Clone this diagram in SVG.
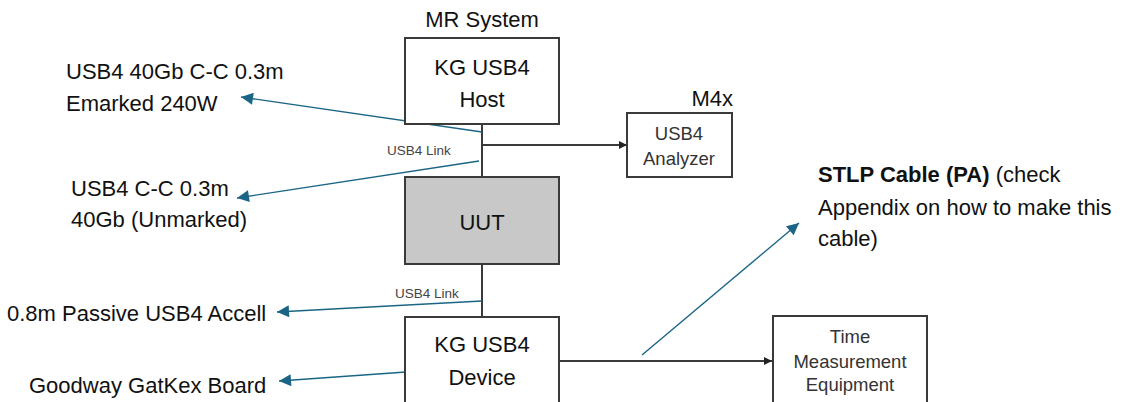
<svg xmlns="http://www.w3.org/2000/svg" width="1130" height="402" viewBox="0 0 1130 402">
<style>
.box{fill:#fff;stroke:#3a3a3a;stroke-width:2}
.uut{fill:#c8c8c8;stroke:#3a3a3a;stroke-width:2}
.t{font-family:"Liberation Sans",Arial,sans-serif;fill:#111}
.big{font-size:22px}
.mid{font-size:18.5px;fill:#333}
.small{font-size:13.5px;fill:#444}
.wire{stroke:#3a3a3a;stroke-width:2;fill:none}
.call{stroke:#1a6585;stroke-width:1.4;fill:none;marker-end:url(#ta)}
</style>
<defs>
<marker id="ba" viewBox="0 0 10 10" refX="10" refY="5" markerWidth="9" markerHeight="8" markerUnits="userSpaceOnUse" orient="auto"><path d="M0,0L10,5L0,10z" fill="#222"/></marker>
<marker id="ta" viewBox="0 0 10 10" refX="10" refY="5" markerWidth="16" markerHeight="12" markerUnits="userSpaceOnUse" orient="auto"><path d="M0,0L10,5L0,10z" fill="#1a6585"/></marker>
</defs>
<g id="connectors">
<line class="wire" x1="482" y1="124" x2="482" y2="177"/>
<line class="wire" x1="482" y1="145" x2="627" y2="145" marker-end="url(#ba)"/>
<line class="wire" x1="482" y1="264" x2="482" y2="317"/>
<line class="wire" x1="559" y1="361" x2="772" y2="361" marker-end="url(#ba)"/>
<line class="call" x1="482" y1="132" x2="241" y2="97"/>
<line class="call" x1="479" y1="161" x2="237" y2="198"/>
<line class="call" x1="482" y1="301" x2="277" y2="312"/>
<line class="call" x1="406" y1="372" x2="279" y2="381"/>
<line class="call" x1="642" y1="355" x2="799" y2="223"/>
<text class="t small" x="387" y="155">USB4 Link</text>
<text class="t small" x="395" y="298">USB4 Link</text>
</g>
<g id="host">
<text class="t big" x="482" y="27" text-anchor="middle">MR System</text>
<rect class="box" x="405" y="38" width="154" height="86"/>
<text class="t big" x="482" y="75" text-anchor="middle">KG USB4</text>
<text class="t big" x="482" y="107" text-anchor="middle">Host</text>
</g>
<g id="analyzer">
<text class="t big" x="733" y="106" text-anchor="end">M4x</text>
<rect class="box" x="627" y="113" width="105" height="64"/>
<text class="t mid" x="679" y="140" text-anchor="middle">USB4</text>
<text class="t mid" x="679" y="165" text-anchor="middle">Analyzer</text>
</g>
<g id="uut">
<rect class="uut" x="405" y="177" width="154" height="87"/>
<text class="t big" x="482" y="230" text-anchor="middle" font-size="23px">UUT</text>
</g>
<g id="device">
<rect class="box" x="405" y="317" width="154" height="95"/>
<text class="t big" x="482" y="352" text-anchor="middle">KG USB4</text>
<text class="t big" x="482" y="385" text-anchor="middle">Device</text>
</g>
<g id="time">
<rect class="box" x="773" y="316" width="154" height="96"/>
<text class="t mid" x="850" y="343" text-anchor="middle">Time</text>
<text class="t mid" x="850" y="368" text-anchor="middle">Measurement</text>
<text class="t mid" x="850" y="391" text-anchor="middle">Equipment</text>
</g>
<g id="label-host-cable">
<text class="t big" x="66" y="79">USB4 40Gb C-C 0.3m</text>
<text class="t big" x="66" y="111">Emarked 240W</text>
</g>
<g id="label-uut-cable">
<text class="t big" x="71" y="196">USB4 C-C 0.3m</text>
<text class="t big" x="71" y="227">40Gb (Unmarked)</text>
</g>
<g id="label-accell">
<text class="t big" x="7" y="321">0.8m Passive USB4 Accell</text>
</g>
<g id="label-board">
<text class="t big" x="29" y="393">Goodway GatKex Board</text>
</g>
<g id="label-stlp">
<text class="t big" x="818" y="182"><tspan font-weight="bold">STLP Cable (PA)</tspan> (check</text>
<text class="t big" x="818" y="215">Appendix on how to make this</text>
<text class="t big" x="818" y="246">cable)</text>
</g>
</svg>
